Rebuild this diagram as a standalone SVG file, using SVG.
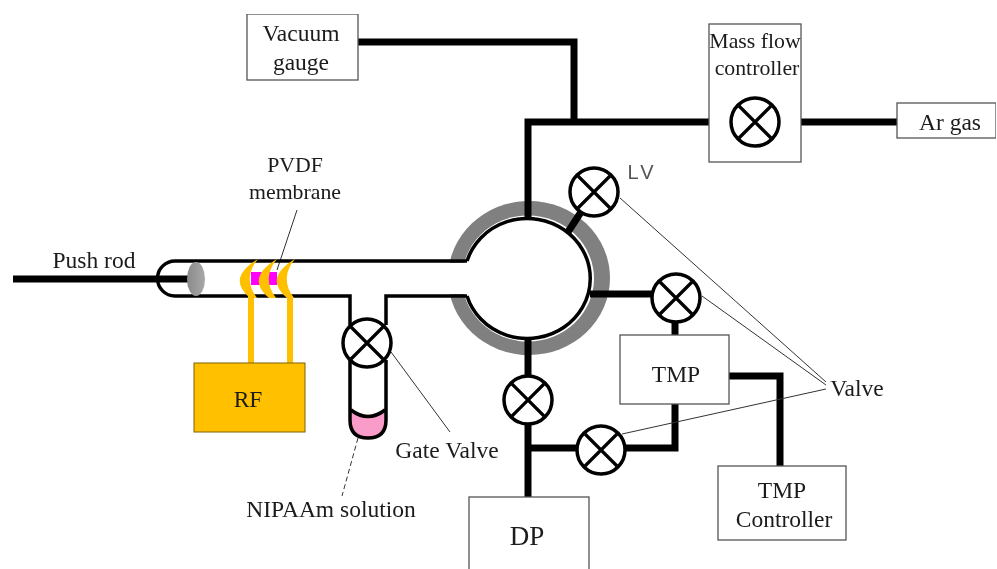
<svg xmlns="http://www.w3.org/2000/svg" width="997" height="569" viewBox="0 0 997 569">
<style>
text{font-family:"Liberation Serif","Times New Roman",serif;font-size:23.500px;fill:#1a1a1a;text-anchor:middle}
.box{fill:#fff;stroke:#555;stroke-width:1.3}
.pipe{fill:none;stroke:#000;stroke-width:7}
.wall{fill:none;stroke:#000;stroke-width:3.500}
.thin{fill:none;stroke:#333;stroke-width:1}
.vc{fill:#fff;stroke:#000;stroke-width:3.500}
.vx{stroke:#000;stroke-width:3.200}
.coil{fill:#ffc000}
.narrow{font-size:21.800px}
</style>
<defs>
<g id="valve"><circle class="vc" r="24"/><path class="vx" d="M-16-16L16 16M16-16L-16 16"/></g>
<linearGradient id="pl" x1="0" x2="1" y1="0" y2="0"><stop offset="0" stop-color="#8a8a8a"/><stop offset="1" stop-color="#a8a8a8"/></linearGradient>
<filter id="soft" x="0" y="0" width="1" height="1"><feGaussianBlur stdDeviation="0.5"/></filter>
</defs>
<rect width="997" height="569" fill="#fff"/>
<g filter="url(#soft)">
<g id="chamber">
<ellipse cx="529" cy="278" rx="81" ry="77" fill="#808080"/>
<ellipse cx="528" cy="278.500" rx="66" ry="63" fill="#fff"/>
<rect x="440" y="263" width="35" height="31" fill="#fff"/>
<path class="wall" d="M467 261A63 60 0 1 1 467 296"/>
</g>
<g id="connectors">
<path class="pipe" d="M358 42H574V122M528 218V122H710M801 122H897"/>
<path class="pipe" d="M568 232L581 212M590 294H652M675 322V336"/>
<path class="pipe" d="M528 338V376M528 424V498M528 448H578M625 448H675V404"/>
<path class="pipe" d="M729 376H780V466"/>
<path class="pipe" d="M13 279H192"/>
<path class="thin" d="M620 198L826 382M702 296L826 385M622 434L826 389"/>
<path class="thin" d="M391 352L450 432M297 210L277 270"/>
<path class="thin" stroke-dasharray="5 3" d="M358 438L342 496"/>
</g>
<g id="tube">
<path class="wall" d="M467 261H175A17.500 17.500 0 0 0 175 296H350V325M386 325V296H467"/>
<path d="M351 411Q368 423 385 411V420Q385 437 368 437Q351 437 351 420Z" fill="#f99cc9"/>
<path class="wall" d="M350 360V420Q350 438 368 438Q386 438 386 420V360M351 410Q368 423 385 410"/>
<ellipse id="plunger" cx="196" cy="279" rx="9" ry="17" fill="url(#pl)"/>
</g>
<g id="membrane"><rect x="251" y="272" width="26" height="13" fill="#f0f"/></g>
<g id="coils">
<path class="coil" d="M258 259Q226 278 250 298H257Q242 278 258 259Z"/>
<path class="coil" d="M277 259Q245 278 269 298H276Q261 278 277 259Z"/>
<path class="coil" d="M295 259Q263 278 287 298H294Q279 278 295 259Z"/>
<path class="coil" d="M248 296H254V364H248ZM287 296H293V364H287Z"/>
</g>
<g id="rf"><rect x="194" y="363" width="111" height="69" fill="#ffc000" stroke="#7f6000" stroke-width="1"/><text x="248" y="407">RF</text></g>
<g id="vacuum-gauge"><rect class="box" x="247" y="14" width="111" height="66"/><text x="301" y="41">Vacuum</text><text x="301" y="70">gauge</text></g>
<g id="mass-flow"><rect class="box" x="709" y="24" width="92" height="138"/><text class="narrow" x="755" y="48">Mass flow</text><text class="narrow" x="757" y="75">controller</text><use href="#valve" x="755" y="122"/></g>
<g id="ar-gas"><rect class="box" x="897" y="103" width="99" height="35"/><text x="950" y="130">Ar gas</text></g>
<g id="lv"><use href="#valve" x="594" y="192"/><text x="642" y="179" style="font-family:'Liberation Sans',sans-serif;font-size:20px;letter-spacing:3px;fill:#555">LV</text></g>
<g id="v2"><use href="#valve" x="676" y="298"/></g>
<g id="v3"><use href="#valve" x="528" y="400"/></g>
<g id="v4"><use href="#valve" x="601" y="450"/></g>
<g id="gate-valve"><use href="#valve" x="367" y="343"/><text x="447" y="458">Gate Valve</text></g>
<g id="tmp"><rect class="box" x="620" y="335" width="109" height="69"/><text x="676" y="382">TMP</text></g>
<g id="dp"><rect class="box" x="469" y="497" width="120" height="80"/><text x="527" y="545" style="font-size:27px">DP</text></g>
<g id="tmp-controller"><rect class="box" x="718" y="466" width="128" height="74"/><text x="782" y="498">TMP</text><text x="784" y="527">Controller</text></g>
<g id="labels">
<text x="94" y="268">Push rod</text>
<text class="narrow" x="295" y="172">PVDF</text>
<text class="narrow" x="295" y="199">membrane</text>
<text x="857" y="396">Valve</text>
<text x="331" y="517">NIPAAm solution</text>
</g>
</g>
</svg>
